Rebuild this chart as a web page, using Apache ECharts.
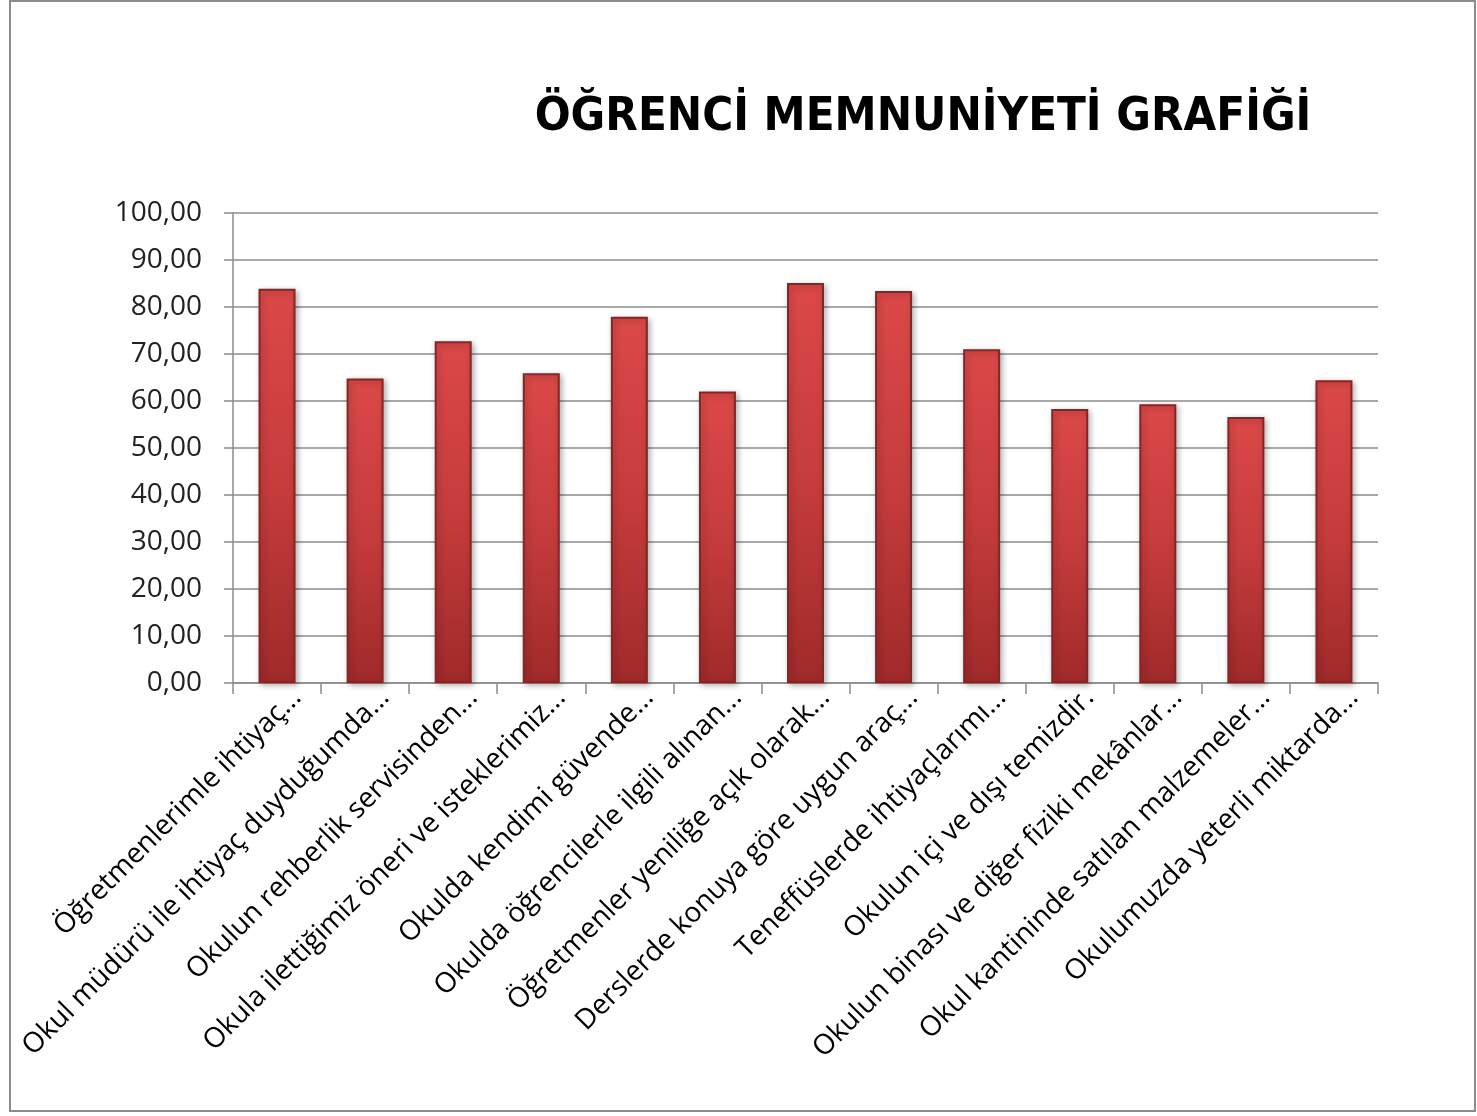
<!DOCTYPE html>
<html>
<head>
    <meta charset="utf-8">
    <title>Öğrenci Memnuniyeti Grafiği</title>
    <script src="https://cdn.jsdelivr.net/npm/echarts@6/dist/echarts.min.js"></script>
    <style>
        html, body { margin: 0; padding: 0; background: #fff; }
        #frame { position: absolute; left: 9px; top: 0; width: 1467px; height: 1112px; border: 2px solid #8c8c8c; box-sizing: border-box; }
        #main { position: absolute; left: 0; top: 0; width: 1477px; height: 1116px; }
    </style>
</head>
<body>
<div id="frame"></div>
<div id="main"></div>
<script type="text/javascript">
    // kategoriler (Excel'deki gibi kısaltılmış)
    var categories = [
        'Öğretmenlerimle ihtiyaç...',
        'Okul müdürü ile ihtiyaç duyduğumda...',
        'Okulun rehberlik servisinden...',
        'Okula ilettiğimiz öneri ve isteklerimiz...',
        'Okulda kendimi güvende...',
        'Okulda öğrencilerle ilgili alınan...',
        'Öğretmenler yeniliğe açık olarak...',
        'Derslerde konuya göre uygun araç...',
        'Teneffüslerde ihtiyaçlarımı...',
        'Okulun içi ve dışı temizdir.',
        'Okulun binası ve diğer fiziki mekânlar...',
        'Okul kantininde satılan malzemeler...',
        'Okulumuzda yeterli miktarda...'
    ];
    var values = [83.9, 64.8, 72.7, 65.9, 77.9, 62.0, 85.1, 83.4, 71.0, 58.3, 59.3, 56.6, 64.4];
    var yTicks = [0, 10, 20, 30, 40, 50, 60, 70, 80, 90, 100];

    var myChart = echarts.init(document.getElementById('main'));

    var option = {
        animation: false,
        title: {
            text: 'ÖĞRENCİ MEMNUNİYETİ GRAFİĞİ',
            left: 918,
            top: 89,
            textAlign: 'center',
            textStyle: {
                fontFamily: '"Liberation Sans Narrow", "DejaVu Sans Condensed", sans-serif',
                fontWeight: 'bold',
                fontSize: 47,
                color: '#000'
            }
        },
        grid: { left: 233, right: 99, top: 213, bottom: 433 },
        xAxis: {
            type: 'category',
            data: categories,
            axisLine: { lineStyle: { color: '#8c8c8c', width: 1.5 } },
            axisTick: { show: true, length: 11, lineStyle: { color: '#8c8c8c', width: 1.5 } },
            axisLabel: {
                interval: 0,
                rotate: 45,
                margin: 30,
                padding: [0, -28, 0, 0],
                fontFamily: '"Open Sans", sans-serif',
                fontSize: 28,
                color: '#000'
            }
        },
        yAxis: {
            type: 'value',
            min: yTicks[0],
            max: yTicks[yTicks.length - 1],
            interval: 10,
            axisLine: { show: true, lineStyle: { color: '#8c8c8c', width: 1.5 } },
            axisTick: { show: true, length: 9, lineStyle: { color: '#8c8c8c', width: 1.5 } },
            splitLine: { lineStyle: { color: '#8c8c8c', width: 1.5 } },
            axisLabel: {
                margin: 31,
                fontFamily: '"Open Sans", sans-serif',
                fontSize: 28,
                color: '#222',
                formatter: function (v) { return v.toFixed(2).replace('.', ','); }
            }
        },
        series: [{
            type: 'bar',
            data: values,
            barWidth: 37,
            itemStyle: {
                color: new echarts.graphic.LinearGradient(0, 0, 0, 1, [
                    { offset: 0, color: '#dc4848' },
                    { offset: 0.5, color: '#c63c3c' },
                    { offset: 1, color: '#a02a2a' }
                ]),
                borderColor: '#8a2424',
                borderWidth: 2,
                shadowColor: 'rgba(0,0,0,0.3)',
                shadowBlur: 6,
                shadowOffsetX: 2,
                shadowOffsetY: 2
            }
        }]
    };

    myChart.setOption(option);
</script>
</body>
</html>
